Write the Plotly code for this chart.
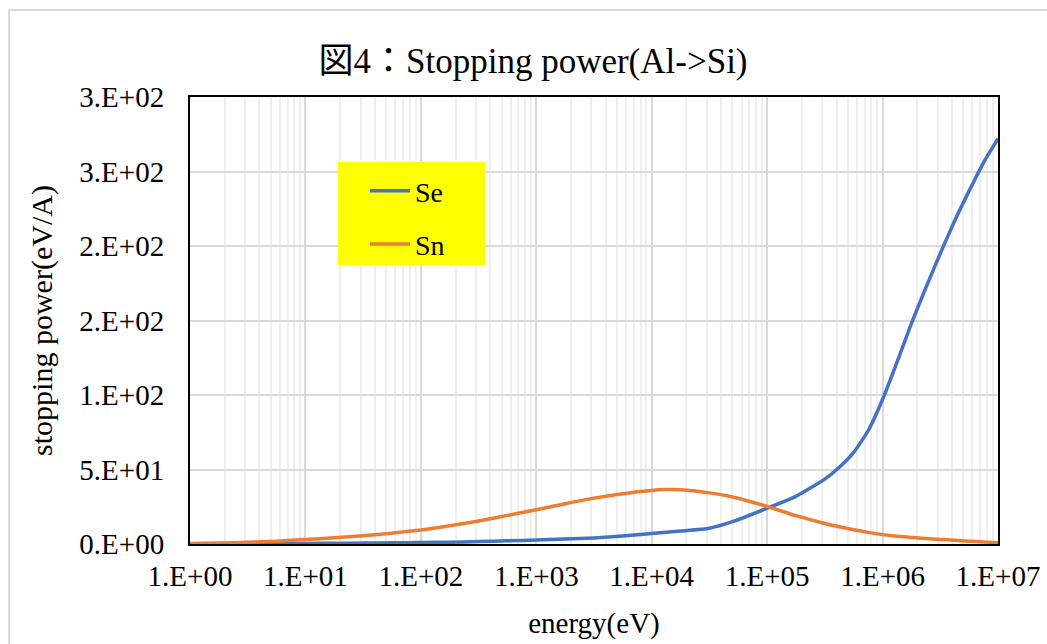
import plotly.graph_objects as go

# Ion energy (eV), log-spaced samples
energy = [1, 1.778, 3.162, 5.623, 10, 17.78, 31.62, 56.23, 100, 177.8,
          316.2, 562.3, 1000, 1778, 3162, 5623, 10000, 12590, 17780, 31620,
          50120, 100000, 177800, 316200, 421700, 562300, 750000, 1.0e6, 1.334e6,
          1.778e6, 2.371e6, 3.162e6, 4.217e6, 5.623e6, 7.499e6, 1.0e7]

# Electronic stopping power (eV/A)
se = [0.1, 0.15, 0.2, 0.3, 0.4, 0.5, 0.65, 0.8, 0.95, 1.25,
      1.6, 2.1, 2.7, 3.3, 4.1, 5.4, 7.0, 7.7, 8.7, 10.6,
      15.0, 24.0, 32.0, 43.5, 51.5, 61.5, 76.0, 97.0, 122.0,
      148.0, 172.0, 195.0, 217.0, 237.0, 256.0, 272.0]

# Nuclear stopping power (eV/A)
sn = [0.3, 0.6, 1.1, 1.9, 3.0, 4.2, 5.6, 7.3, 9.4, 12.2,
      15.5, 19.2, 23.0, 27.0, 30.8, 33.8, 35.9, 36.5, 36.4, 34.3,
      31.6, 25.2, 19.0, 13.8, 11.6, 9.6, 7.8, 6.3, 5.2,
      4.4, 3.7, 3.1, 2.5, 1.9, 1.4, 0.9]

x_tickvals = [1e0, 1e1, 1e2, 1e3, 1e4, 1e5, 1e6, 1e7]
x_ticktext = ["1.E+00", "1.E+01", "1.E+02", "1.E+03", "1.E+04", "1.E+05", "1.E+06", "1.E+07"]
y_tickvals = [0, 50, 100, 150, 200, 250, 300]
y_ticktext = ["0.E+00", "5.E+01", "1.E+02", "2.E+02", "2.E+02", "3.E+02", "3.E+02"]

FONT = "Liberation Serif, Times New Roman, Noto Sans CJK JP, serif"

fig = go.Figure()
fig.add_trace(go.Scatter(x=energy, y=se, name="Se", mode="lines", legendgroup="se",
                         line=dict(color="#4472C4", width=3.5, shape="spline", smoothing=0.5)))
fig.add_trace(go.Scatter(x=energy, y=sn, name="Sn", mode="lines", legendgroup="sn",
                         line=dict(color="#ED7D31", width=3.5, shape="spline", smoothing=0.5)))

L, R, T, B = 190, 49, 97, 100
W, H = 1047, 644
pw, ph = W - L - R, H - T - B

def px_x(p):
    return (p - L) / pw

def px_y(p):
    return (H - B - p) / ph

fig.update_layout(
    width=W, height=H,
    margin=dict(l=L, r=R, t=T, b=B, autoexpand=False),
    paper_bgcolor="white", plot_bgcolor="white",
    font=dict(family=FONT, size=29, color="black"),
    title=dict(text="図4：Stopping power(Al->Si)", x=533 / W, xanchor="center",
               y=1 - 61 / H, yanchor="middle", font=dict(family=FONT, size=35),
               automargin=False),
    showlegend=True,
    legend=dict(x=px_x(365), y=px_y(166), xanchor="left", yanchor="top",
                bgcolor="rgba(0,0,0,0)", font=dict(family=FONT, size=28),
                tracegroupgap=14, itemwidth=40),
    shapes=[
        # legend backdrop
        dict(type="rect", xref="paper", yref="paper", layer="above",
             x0=px_x(338), x1=px_x(485), y0=px_y(265), y1=px_y(162),
             fillcolor="#FFFF00", line=dict(width=0)),
        # outer chart border
        dict(type="rect", xref="paper", yref="paper", layer="below",
             x0=px_x(9), x1=px_x(1070), y0=px_y(670), y1=px_y(10),
             fillcolor="rgba(0,0,0,0)", line=dict(color="#d9d9d9", width=2)),
    ],
)

fig.update_xaxes(
    type="log", range=[0, 7], automargin=False,
    tickvals=x_tickvals, ticktext=x_ticktext,
    showgrid=True, gridcolor="#d9d9d9", gridwidth=1.5,
    minor=dict(showgrid=True, gridcolor="#efefef", gridwidth=1.5, dtick="D1"),
    showline=True, mirror=True, linecolor="black", linewidth=2,
    ticks="", ticklabelstandoff=5,
    title=dict(text="energy(eV)", font=dict(family=FONT, size=29), standoff=22),
    zeroline=False,
)
fig.update_yaxes(
    range=[0, 300], automargin=False,
    tickvals=y_tickvals, ticktext=y_ticktext,
    showgrid=True, gridcolor="#d9d9d9", gridwidth=1.5,
    showline=True, mirror=True, linecolor="black", linewidth=2,
    ticks="", ticklabelstandoff=18,
    title=dict(text="stopping power(eV/A)", font=dict(family=FONT, size=30), standoff=18),
    zeroline=False,
)

fig.write_html("out.html")
